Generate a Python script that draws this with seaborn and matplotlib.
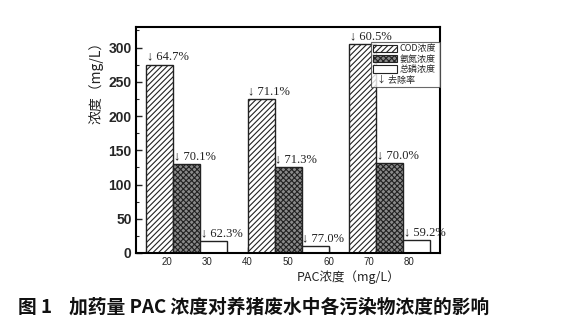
import matplotlib
matplotlib.use("Agg")
import matplotlib.pyplot as plt
import matplotlib.transforms as mtransforms
import seaborn as sns
import pandas as pd
from matplotlib.patches import Patch
from matplotlib.ticker import MultipleLocator

# PAC dosage groups (bar group centres on the dosage axis)
groups = [25, 50, 75]
series = ["COD浓度", "氨氮浓度", "总磷浓度"]
cod = [275, 225, 305]
nh3n = [130, 125, 131]
tp = [17, 10, 18.5]
cod_removal = ["64.7%", "71.1%", "60.5%"]
nh3n_removal = ["70.1%", "71.3%", "70.0%"]
tp_removal = ["62.3%", "77.0%", "59.2%"]
x_ticks = [20, 30, 40, 50, 60, 70, 80]

values = [cod, nh3n, tp]
removals = [cod_removal, nh3n_removal, tp_removal]

df = pd.DataFrame({
    "dose": groups * 3,
    "series": [s for s in series for _ in groups],
    "conc": cod + nh3n + tp,
})

sns.set_style("ticks")
plt.rcParams["font.family"] = ["Noto Sans CJK SC", "DejaVu Sans"]
plt.rcParams["hatch.linewidth"] = 0.8

fig = plt.figure(figsize=(5.71, 3.26), dpi=100)
ax = fig.add_axes([0.238, 0.224, 0.533, 0.693])

sns.barplot(data=df, x="dose", y="conc", hue="series", hue_order=series,
            native_scale=True, width=0.8, palette=["white"] * 3,
            edgecolor="#222222", linewidth=1.0, legend=False, ax=ax,
            errorbar=None, saturation=1)

hatches = ["//////", "xxxxxx", ""]
faces = ["white", "#8a8a8a", "white"]
for cont, h, fc in zip(ax.containers, hatches, faces):
    for bar in cont:
        bar.set_hatch(h)
        bar.set_facecolor(fc)
        bar.set_edgecolor("#222222")

# removal-rate labels above each bar
for cont, vals, labs in zip(ax.containers, values, removals):
    for bar, v, lab in zip(cont, vals, labs):
        ax.text(bar.get_x() + 0.2, v + 3, "↓ " + lab, ha="left", va="bottom",
                fontsize=9, family=["Liberation Serif", "DejaVu Sans"],
                color="#222222")

ax.set_xlim(12.4, 87.6)
ax.set_ylim(0, 330)
ax.set_xticks(x_ticks)
ax.set_xticklabels([str(t) for t in x_ticks], fontsize=7,
                   family=["Liberation Sans"])
ax.xaxis.set_minor_locator(MultipleLocator(5))
ax.yaxis.set_major_locator(MultipleLocator(50))
ax.yaxis.set_minor_locator(MultipleLocator(25))
for lab in ax.get_yticklabels():
    lab.set_fontsize(10)
    lab.set_fontweight("bold")
    lab.set_family(["Liberation Sans"])
ax.tick_params(which="major", direction="in", length=4, width=1.0,
               top=False, right=False, pad=3)
ax.tick_params(which="minor", direction="in", length=2, width=0.8,
               top=False, right=False)
for sp in ax.spines.values():
    sp.set_visible(True)
    sp.set_linewidth(1.5)
    sp.set_color("black")

ax.set_xlabel("PAC浓度（mg/L）", fontsize=9, family=["Noto Sans CJK SC"],
              color="#222222")
ax.xaxis.set_label_coords(0.70, -0.075)
ax.set_ylabel("浓度（mg/L）", fontsize=10, family=["Noto Sans CJK SC"],
              color="#222222")
ax.yaxis.set_label_coords(-0.105, 0.77)

handles = [
    Patch(facecolor="white", edgecolor="#222222", hatch="//////", linewidth=0.8),
    Patch(facecolor="#8a8a8a", edgecolor="#222222", hatch="xxxxxx", linewidth=0.8),
    Patch(facecolor="white", edgecolor="#222222", linewidth=0.8),
    Patch(facecolor="none", edgecolor="none"),
]
leg = ax.legend(handles, series + ["↓ 去除率"], loc="upper right",
                bbox_to_anchor=(1.0, 0.935), fontsize=6.5, frameon=True,
                fancybox=False, edgecolor="#444444", handlelength=2.6,
                handleheight=0.9, handletextpad=0.3, borderpad=0.3,
                labelspacing=0.15, borderaxespad=0.0)
leg.get_frame().set_linewidth(0.8)
# the removal-rate entry has no swatch: slide its text into the handle column
rate_text = leg.get_texts()[3]
rate_text.set_transform(rate_text.get_transform() +
                        mtransforms.ScaledTranslation(-16 / 72, 0,
                                                      fig.dpi_scale_trans))

fig.text(0.032, 0.057, "图 1    加药量 PAC 浓度对养猪废水中各污染物浓度的影响",
         fontsize=13.5, fontweight="bold", family=["Noto Sans CJK SC"],
         ha="left", va="center", color="#111111")

fig.savefig("out.png", dpi=100)
